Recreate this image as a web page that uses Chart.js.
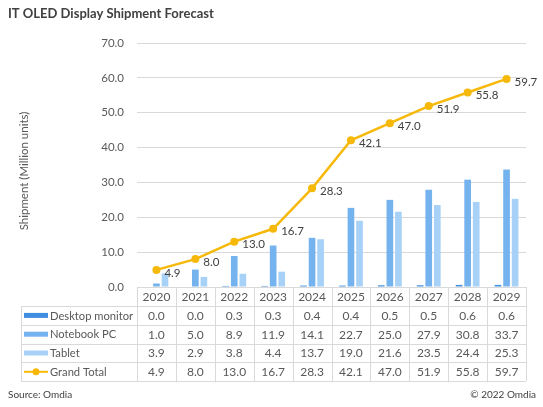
<!DOCTYPE html>
<html>
<head>
<meta charset="utf-8">
<script src="https://cdn.jsdelivr.net/npm/chart.js@4"></script>
<style>
html,body{margin:0;padding:0;background:#fff;}
#wrap{position:relative;width:543px;height:407px;}
</style>
</head>
<body>
<div id="wrap"><canvas id="c"></canvas></div>
<script>
const years = ['2020','2021','2022','2023','2024','2025','2026','2027','2028','2029'];
const desktopMonitor = [0.0,0.0,0.3,0.3,0.4,0.4,0.5,0.5,0.6,0.6];
const notebookPC = [1.0,5.0,8.9,11.9,14.1,22.7,25.0,27.9,30.8,33.7];
const tablet = [3.9,2.9,3.8,4.4,13.7,19.0,21.6,23.5,24.4,25.3];
const grandTotal = [4.9,8.0,13.0,16.7,28.3,42.1,47.0,51.9,55.8,59.7];
const seriesNames = ['Desktop monitor','Notebook PC','Tablet','Grand Total'];
const yTicks = [0,10,20,30,40,50,60,70];

const FONT = 'Lato, "Liberation Sans", sans-serif';
const COL = {desk:'#3F8EE0', note:'#74B3EE', tab:'#A7D1F6', gold:'#F6B90A', grid:'#D9D9D9', text:'#595959', dark:'#404040'};

const tablePlugin = {
  id:'tablePlugin',
  afterDatasetsDraw(chart){
    const ctx = chart.ctx;
    const meta = chart.getDatasetMeta(3);
    ctx.save();
    ctx.font = '11.5px ' + FONT;
    ctx.fillStyle = COL.dark;
    ctx.textAlign = 'left';
    ctx.textBaseline = 'middle';
    meta.data.forEach((pt,i)=>{
      ctx.fillText(grandTotal[i].toFixed(1), pt.x + 8, pt.y + 3);
    });
    ctx.restore();
  },
  afterDraw(chart){
    const ctx = chart.ctx;
    const ca = chart.chartArea;
    const xs = chart.scales.x;
    const colW = xs.getPixelForValue(1) - xs.getPixelForValue(0);
    const top = ca.bottom;
    const headH = 19;
    const rowH = 18.8;
    const tableLeft = 21;
    const rows = [desktopMonitor, notebookPC, tablet, grandTotal];
    const bodyTop = top + headH;
    const bodyBottom = bodyTop + rowH*rows.length;
    ctx.save();
    ctx.strokeStyle = COL.grid;
    ctx.lineWidth = 1;
    ctx.beginPath();
    ctx.moveTo(ca.left, top+0.5); ctx.lineTo(ca.right, top+0.5);
    for(let r=0;r<=rows.length;r++){
      const y = Math.round(bodyTop + r*rowH)+0.5;
      ctx.moveTo(tableLeft, y); ctx.lineTo(ca.right, y);
    }
    for(let c=0;c<=years.length;c++){
      const x = Math.round(ca.left + c*colW)+0.5;
      ctx.moveTo(x, top); ctx.lineTo(x, bodyBottom);
    }
    ctx.moveTo(tableLeft+0.5, bodyTop); ctx.lineTo(tableLeft+0.5, bodyBottom);
    ctx.stroke();
    ctx.font = '12px ' + FONT;
    ctx.fillStyle = COL.text;
    ctx.textAlign = 'center';
    ctx.textBaseline = 'middle';
    years.forEach((y,i)=>{
      ctx.fillText(y, xs.getPixelForValue(i), top + headH/2 + 0.5);
    });
    rows.forEach((arr,r)=>{
      const cy = bodyTop + r*rowH + rowH/2 + 0.5;
      arr.forEach((v,i)=>{
        ctx.fillText(v.toFixed(1), xs.getPixelForValue(i), cy);
      });
    });
    const keyColors = [COL.desk, COL.note, COL.tab];
    ctx.textAlign = 'left';
    rows.forEach((arr,r)=>{
      const cy = bodyTop + r*rowH + rowH/2;
      if(r<3){
        ctx.fillStyle = keyColors[r];
        ctx.fillRect(24, cy-2.5, 24, 5);
      } else {
        ctx.strokeStyle = COL.gold; ctx.lineWidth = 2;
        ctx.beginPath(); ctx.moveTo(24, cy); ctx.lineTo(48, cy); ctx.stroke();
        ctx.fillStyle = COL.gold;
        ctx.beginPath(); ctx.arc(36, cy, 3.5, 0, Math.PI*2); ctx.fill();
      }
      ctx.fillStyle = COL.text;
      ctx.font = '11.2px ' + FONT;
      ctx.fillText(seriesNames[r], 50, cy + 0.5);
    });
    ctx.font = 'bold 13px ' + FONT;
    ctx.fillStyle = COL.dark;
    ctx.textAlign = 'left';
    ctx.fillText('IT OLED Display Shipment Forecast', 8, 14);
    ctx.save();
    ctx.translate(24, 171);
    ctx.rotate(-Math.PI/2);
    ctx.textAlign = 'center';
    ctx.font = '11.5px ' + FONT;
    ctx.fillStyle = COL.text;
    ctx.fillText('Shipment (Million units)', 0, 0);
    ctx.restore();
    ctx.font = '10px ' + FONT;
    ctx.fillStyle = COL.dark;
    ctx.textAlign = 'left';
    ctx.fillText('Source: Omdia', 8, 395);
    ctx.textAlign = 'right';
    ctx.fillText('\u00A9 2022 Omdia', 536, 395);
    ctx.restore();
  }
};

new Chart(document.getElementById('c'), {
  data:{
    labels: years,
    datasets:[
      {type:'bar', label:seriesNames[0], data:desktopMonitor, backgroundColor:COL.desk, order:1, categoryPercentage:0.66, barPercentage:0.78},
      {type:'bar', label:seriesNames[1], data:notebookPC, backgroundColor:COL.note, order:1, categoryPercentage:0.66, barPercentage:0.78},
      {type:'bar', label:seriesNames[2], data:tablet, backgroundColor:COL.tab, order:1, categoryPercentage:0.66, barPercentage:0.78},
      {type:'line', label:seriesNames[3], data:grandTotal, borderColor:COL.gold, backgroundColor:COL.gold, borderWidth:2.5, pointRadius:4, pointBackgroundColor:COL.gold, pointBorderWidth:0, tension:0, order:0}
    ]
  },
  options:{
    responsive:true,
    maintainAspectRatio:false,
    animation:false,
    layout:{padding:{top:43,bottom:120,left:0,right:17}},
    plugins:{legend:{display:false}, tooltip:{enabled:false}, title:{display:false}},
    scales:{
      x:{display:false, grid:{display:false}},
      y:{
        min:0, max:70,
        afterFit(s){ s.width = 137; },
        afterBuildTicks(s){ s.ticks = yTicks.map(v=>({value:v})); },
        ticks:{callback:v=>Number(v).toFixed(1), color:COL.text, font:{family:FONT, size:11.5}, padding:13},
        grid:{color:COL.grid, drawTicks:false},
        border:{display:false}
      }
    }
  },
  plugins:[tablePlugin]
});
</script>
</body>
</html>
